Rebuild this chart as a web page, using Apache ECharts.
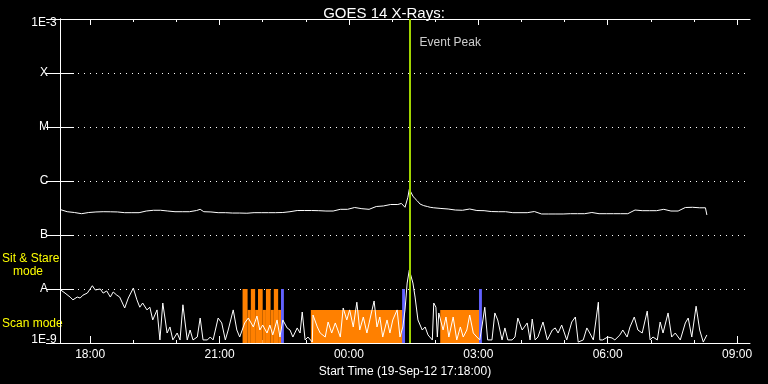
<!DOCTYPE html>
<html><head><meta charset="utf-8">
<script src="https://cdn.jsdelivr.net/npm/echarts@6/dist/echarts.min.js"></script>
<style>html,body{margin:0;padding:0;background:#000}#c{width:768px;height:384px}</style>
</head><body><div id="c"></div>
<script>
// ---- data (times are minutes after the start time 19-Sep-12 17:18:00) ----
const titleText = 'GOES 14 X-Rays:';
const startLabel = 'Start Time (19-Sep-12 17:18:00)';
const spanMinutes = 960;

const longTimes = [0,10,20,30,40,50,60,70,80,90,
  100,110,120,130,140,150,160,170,180,190,
  195,200,210,220,230,240,250,260,270,280,
  290,300,310,320,330,340,350,360,370,380,
  390,400,410,420,430,440,450,460,470,475,
  480,482,484,486,488,491,494,497,501,506,
  511,515,520,530,540,550,560,570,580,590,
  600,610,620,630,640,650,660,670,680,690,
  700,710,720,730,740,750,760,770,780,790,
  800,810,820,830,840,850,860,870,880,890,
  898,900];
const longFlux = [2.97e-7,2.70e-7,2.61e-7,2.48e-7,2.61e-7,2.67e-7,2.70e-7,2.69e-7,2.67e-7,2.59e-7,
  2.59e-7,2.59e-7,2.78e-7,2.87e-7,2.87e-7,2.78e-7,2.70e-7,2.70e-7,2.70e-7,2.84e-7,
  2.99e-7,2.70e-7,2.67e-7,2.59e-7,2.59e-7,2.55e-7,2.55e-7,2.53e-7,2.59e-7,2.59e-7,
  2.59e-7,2.59e-7,2.61e-7,2.70e-7,2.84e-7,2.84e-7,2.84e-7,2.82e-7,2.78e-7,2.78e-7,
  2.99e-7,2.99e-7,3.23e-7,3.07e-7,2.99e-7,3.37e-7,3.45e-7,3.67e-7,3.67e-7,3.84e-7,
  3.26e-7,3.26e-7,5.0e-7,7.1e-7,6.8e-7,5.25e-7,4.7e-7,4.3e-7,3.74e-7,3.5e-7,
  3.37e-7,3.26e-7,3.19e-7,3.10e-7,3.03e-7,2.90e-7,2.87e-7,3.03e-7,2.84e-7,2.82e-7,
  2.72e-7,2.70e-7,2.70e-7,2.59e-7,2.59e-7,2.59e-7,2.72e-7,2.45e-7,2.45e-7,2.45e-7,
  2.45e-7,2.48e-7,2.48e-7,2.48e-7,2.61e-7,2.48e-7,2.48e-7,2.48e-7,2.48e-7,2.48e-7,
  2.90e-7,2.82e-7,2.82e-7,2.82e-7,2.99e-7,2.78e-7,2.78e-7,3.23e-7,3.26e-7,3.19e-7,
  3.19e-7,2.35e-7];

const shortTimes = [0,7,14,18,24,28,32,38,45,49,
  56,60,65,70,74,79,83,90,95,102,
  107,111,115,121,125,129,135,139,143,149,
  153,157,163,167,171,177,181,185,191,195,
  199,205,209,213,220,225,230,234,241,246,
  250,257,262,269,274,278,282,288,292,296,
  302,306,310,316,320,324,330,334,337,341,
  345,351,352,358,362,369,373,378,383,390,
  394,399,403,408,413,417,422,427,431,437,
  441,445,449,455,459,463,469,473,477,480,
  483,486,488,491,494,498,504,508,512,518,
  520,523,525,527,533,537,541,547,552,557,
  561,566,570,575,580,584,587,591,595,601,
  605,609,615,619,623,629,633,637,643,650,
  654,657,661,665,672,678,685,689,693,698,
  705,712,717,721,728,733,737,742,749,751,
  755,762,768,772,779,783,789,793,799,804,
  810,817,821,825,831,835,839,846,851,856,
  863,870,874,879,885,890,895,900];
const shortFlux = [9.8e-9,8.4e-9,7.1e-9,6.3e-9,7.1e-9,6.8e-9,7.7e-9,8.4e-9,1.15e-8,9.6e-9,
  1.0e-8,8.4e-9,9.2e-9,7.1e-9,8.8e-9,7.7e-9,7.1e-9,4.45e-9,6.8e-9,1.04e-8,
  6.3e-9,4.6e-9,5.5e-9,4.1e-9,4.6e-9,2.67e-9,4.1e-9,1.14e-9,5.5e-9,1.53e-9,
  1.98e-9,1.14e-9,1.53e-9,1.14e-9,5.1e-9,1.14e-9,1.74e-9,1.14e-9,1.29e-9,2.9e-9,
  1.14e-9,1.14e-9,1.29e-9,1.14e-9,2.9e-9,2.35e-9,1.14e-9,1.74e-9,4.1e-9,1.74e-9,
  1.29e-9,2.35e-9,2.9e-9,1.98e-9,3.16e-9,1.74e-9,2.15e-9,1.53e-9,2.15e-9,1.41e-9,
  2.67e-9,1.29e-9,2.67e-9,1.9e-9,1.74e-9,1.29e-9,1.9e-9,1.53e-9,3.75e-9,1.14e-9,
  1.29e-9,1.04e-9,3.3e-9,1.98e-9,1.53e-9,1.29e-9,2.45e-9,1.53e-9,2.35e-9,1.29e-9,
  4.45e-9,2.67e-9,4.1e-9,1.98e-9,5.7e-9,1.74e-9,3.03e-9,1.53e-9,2.67e-9,6.0e-9,
  1.98e-9,3.03e-9,1.29e-9,2.67e-9,1.53e-9,2.67e-9,4.1e-9,1.29e-9,1.98e-9,4.1e-9,
  1.29e-8,2.25e-8,2.15e-8,1.29e-8,7.1e-9,2.67e-9,1.74e-9,1.98e-9,1.41e-9,1.14e-9,
  5.5e-9,4.6e-9,1.29e-9,3.6e-9,1.74e-9,3.03e-9,1.29e-9,3.03e-9,1.14e-9,1.98e-9,
  1.29e-9,1.74e-9,3.3e-9,1.53e-9,1.29e-9,1.14e-9,1.98e-9,4.6e-9,1.14e-9,1.14e-9,
  3.6e-9,2.67e-9,1.14e-9,1.9e-9,1.14e-9,1.14e-9,1.29e-9,2.9e-9,1.74e-9,2.35e-9,
  1.14e-9,2.78e-9,1.14e-9,1.29e-9,2.45e-9,1.14e-9,1.74e-9,1.9e-9,1.53e-9,2.15e-9,
  1.14e-9,2.45e-9,3.03e-9,1.04e-9,1.14e-9,1.9e-9,1.53e-9,1.14e-9,5.7e-9,1.14e-9,
  1.14e-9,1.29e-9,1.24e-9,1.14e-9,1.41e-9,1.74e-9,1.29e-9,1.98e-9,3.03e-9,1.74e-9,
  1.53e-9,3.9e-9,1.14e-9,1.29e-9,1.14e-9,2.45e-9,1.53e-9,3.6e-9,1.29e-9,1.53e-9,
  1.14e-9,2.35e-9,2.9e-9,1.29e-9,4.8e-9,1.74e-9,1.04e-9,1.41e-9];

// instrument mode intervals (orange)
const modeStart = [254,261,265.5,271.5,275.5,282,286.5,293,297.5,303.5,349,529];
const modeEnd   = [261,265.5,271.5,275.5,282,286.5,293,297.5,303.5,307.5,477,583];
const modeKind  = ['stare','scan','stare','scan','stare','scan','stare','scan','stare','scan','scan','scan'];
const modeLevel = {stare: 1.0e-8, scan: 4.1e-9};
const modeLabels = ['Sit & Stare', 'mode', 'Scan mode'];

// blue markers
const markerStart = [307.5, 476, 583];
const markerEnd   = [311.5, 480, 587];
const markerTop = 1.0e-8;

// event peak
const peakTime = 487;
const peakLabel = 'Event Peak';
const peakLabelFlux = 3.6e-4;

// axes
const yTickLabels = ['1E-9','A','B','C','M','X','1E-3'];
const xTickMinutes = [42,222,402,582,762,942];
const xTickLabels = ['18:00','21:00','00:00','03:00','06:00','09:00'];
const xMinorTickMinutes = [42,102,162,222,282,342,402,462,522,582,642,702,762,822,882,942];

// ---- chart ----
const FONT = 'Liberation Sans';
const WHITE = '#ffffff';
const chart = echarts.init(document.getElementById('c'), null, {renderer: 'canvas'});

function xAxisDef(pos, ticks, len, isMain) {
  return {
    type: 'value', min: 0, max: spanMinutes, position: pos,
    axisLine: {show: isMain, lineStyle: {color: WHITE, width: 1}},
    axisTick: {show: true, inside: true, length: len, customValues: ticks, lineStyle: {color: WHITE, width: 1}},
    axisLabel: (isMain && pos === 'bottom') ? {
      show: true, customValues: xTickMinutes, color: WHITE, fontSize: 12, fontFamily: FONT, margin: 6,
      formatter: v => xTickLabels[xTickMinutes.indexOf(Math.round(v))]
    } : {show: false},
    splitLine: {show: false},
    name: (isMain && pos === 'bottom') ? startLabel : '',
    nameLocation: 'middle', nameGap: 20,
    nameTextStyle: {color: WHITE, fontSize: 12, fontFamily: FONT}
  };
}

function yAxisDef(pos) {
  const txt = {color: WHITE, fontSize: 12, fontFamily: FONT};
  return {
    type: 'log', logBase: 10, min: 1e-9, max: 1e-3, position: pos,
    axisLine: {show: true, lineStyle: {color: WHITE, width: 1}},
    axisTick: {show: true, inside: true, length: 14, lineStyle: {color: WHITE, width: 1}},
    axisLabel: pos === 'left' ? Object.assign({
      show: true, align: 'center', margin: 16,
      formatter: v => {
        const i = Math.round(Math.log10(v)) + 9;
        if (i === yTickLabels.length - 1) return '{top|' + yTickLabels[i] + '}';
        if (i === 0) return '{bot|' + yTickLabels[i] + '}';
        return yTickLabels[i];
      },
      rich: {
        top: Object.assign({padding: [8, 0, 0, 0]}, txt),
        bot: Object.assign({padding: [0, 0, 6, 0]}, txt)
      }
    }, txt) : {show: false},
    splitLine: {show: pos === 'left', lineStyle: {color: WHITE, width: 1, type: [1, 5]}}
  };
}

const option = {
  backgroundColor: '#000',
  animation: false,
  title: {text: titleText, left: 'center', top: 1,
    textStyle: {color: WHITE, fontSize: 15, fontWeight: 'normal', fontFamily: FONT}},
  grid: {left: 60, right: 18, top: 19, bottom: 41, containLabel: false},
  xAxis: [
    xAxisDef('bottom', xTickMinutes, 7, true),
    xAxisDef('bottom', xMinorTickMinutes, 3, false),
    xAxisDef('top', xTickMinutes, 6, true),
    xAxisDef('top', xMinorTickMinutes, 3, false)
  ],
  yAxis: [yAxisDef('left'), yAxisDef('right')],
  graphic: [
    {type: 'text', left: 2, top: 253, style: {text: modeLabels[0], fill: '#ffff00', font: '12px ' + FONT}},
    {type: 'text', left: 13, top: 266, style: {text: modeLabels[1], fill: '#ffff00', font: '12px ' + FONT}},
    {type: 'text', left: 2, top: 318, style: {text: modeLabels[2], fill: '#ffff00', font: '12px ' + FONT}}
  ],
  series: [
    {
      type: 'custom', name: 'mode', z: 1, clip: true,
      data: modeStart.map((s, i) => [s, modeEnd[i], modeLevel[modeKind[i]]]),
      encode: {x: [0, 1], y: 2},
      renderItem: (params, api) => {
        const p0 = api.coord([api.value(0), api.value(2)]);
        const p1 = api.coord([api.value(1), 1e-9]);
        return {type: 'rect', shape: {x: p0[0], y: p0[1], width: p1[0] - p0[0], height: p1[1] - p0[1]},
          style: {fill: '#ff8000'}};
      }
    },
    {
      type: 'custom', name: 'markers', z: 2, clip: true,
      data: markerStart.map((s, i) => [s, markerEnd[i], markerTop]),
      encode: {x: [0, 1], y: 2},
      renderItem: (params, api) => {
        const p0 = api.coord([api.value(0), api.value(2)]);
        const p1 = api.coord([api.value(1), 1e-9]);
        return {type: 'rect', shape: {x: p0[0], y: p0[1], width: p1[0] - p0[0], height: p1[1] - p0[1]},
          style: {fill: '#6262ff'}};
      }
    },
    {
      type: 'line', name: 'short', z: 3, showSymbol: false, clip: true,
      data: shortTimes.map((t, i) => [t, shortFlux[i]]),
      lineStyle: {color: WHITE, width: 1}
    },
    {
      type: 'line', name: 'long', z: 3, showSymbol: false, clip: true,
      data: longTimes.map((t, i) => [t, longFlux[i]]),
      lineStyle: {color: WHITE, width: 1},
      markLine: {
        silent: true, symbol: 'none', z: 5,
        data: [{xAxis: peakTime}],
        lineStyle: {color: '#a0d400', width: 2, type: 'solid'},
        label: {show: false}
      }
    },
    {
      type: 'scatter', name: 'peakLabel', z: 5, symbolSize: 1,
      itemStyle: {color: 'rgba(0,0,0,0)'},
      data: [[peakTime, peakLabelFlux]],
      label: {show: true, position: 'right', distance: 9, formatter: peakLabel,
        color: WHITE, fontSize: 12, fontFamily: FONT}
    }
  ]
};
chart.setOption(option);
</script></body></html>
